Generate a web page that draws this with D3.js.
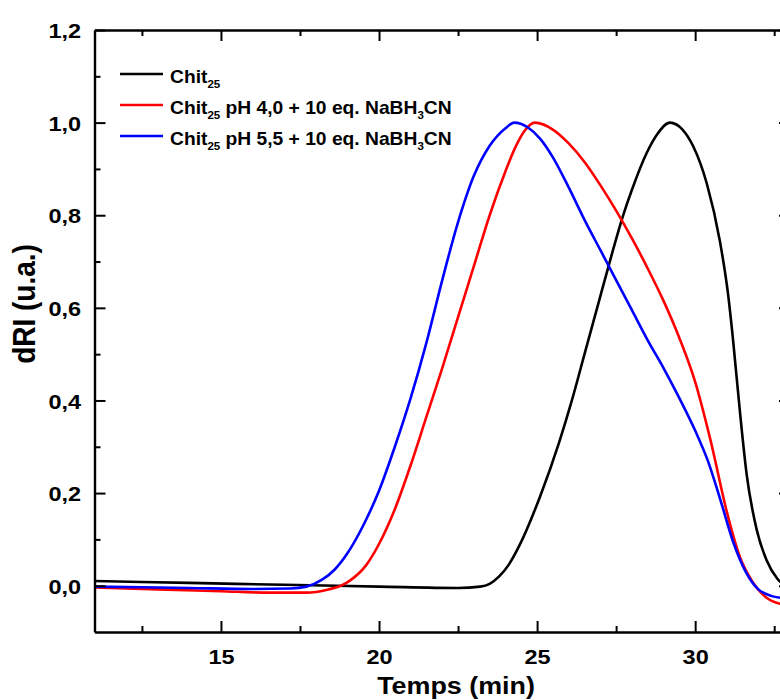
<!DOCTYPE html>
<html><head><meta charset="utf-8">
<script src="https://cdn.jsdelivr.net/npm/d3@7"></script>
<style>body{margin:0;background:#fff} svg{display:block} text{white-space:pre}</style>
</head><body><svg id="c" width="780" height="700"></svg>
<script>
// ---- data ----
const blackTime = [11, 14, 17, 20, 22.5, 23.2, 23.5, 23.8, 24.1, 24.45, 25.08, 25.7, 26.1, 26.5, 26.9, 27.3, 27.7, 28.0, 28.47, 28.8, 29.2, 29.6, 29.93, 30.37, 30.78, 31.04, 31.2, 31.41, 31.63, 31.95, 32.26, 32.6, 33];
const blackValue = [0.010, 0.006, 0.002, -0.002, -0.005, -0.002, 0.004, 0.02, 0.045, 0.088, 0.19, 0.31, 0.40, 0.50, 0.60, 0.70, 0.795, 0.855, 0.935, 0.975, 1.0, 0.985, 0.95, 0.868, 0.745, 0.63, 0.53, 0.38, 0.24, 0.12, 0.055, 0.015, -0.005];

const redTime = [11, 13, 15, 16.5, 17.7, 18.4, 18.8, 19.1, 19.6, 20.0, 20.5, 21.0, 21.5, 22.0, 22.5, 23.0, 23.5, 24.0, 24.3, 24.6, 24.93, 25.5, 26.0, 26.5, 27.0, 27.5, 28.0, 28.5, 29.0, 29.5, 30.0, 30.5, 31.0, 31.4, 31.8, 32.26, 32.68, 33];
const redValue = [-0.004, -0.008, -0.012, -0.015, -0.015, -0.008, 0.0, 0.012, 0.045, 0.09, 0.165, 0.26, 0.365, 0.47, 0.58, 0.69, 0.80, 0.895, 0.945, 0.982, 1.0, 0.985, 0.955, 0.915, 0.865, 0.81, 0.75, 0.685, 0.615, 0.535, 0.44, 0.31, 0.16, 0.065, 0.01, -0.026, -0.039, -0.042];

const blueTime = [11, 14, 16, 17.2, 17.7, 18.2, 18.6, 19.0, 19.5, 20.0, 20.5, 21.0, 21.5, 22.0, 22.5, 23.0, 23.5, 24.0, 24.28, 24.7, 25.1, 25.5, 26.0, 26.5, 27.0, 27.5, 28.0, 28.5, 29.0, 29.5, 30.0, 30.4, 30.8, 31.2, 31.6, 32.0, 32.4, 32.8, 33];
const blueValue = [-0.002, -0.005, -0.007, -0.006, -0.002, 0.013, 0.035, 0.07, 0.13, 0.205, 0.30, 0.405, 0.525, 0.66, 0.785, 0.885, 0.95, 0.988, 1.0, 0.99, 0.965, 0.925, 0.86, 0.79, 0.725, 0.66, 0.595, 0.53, 0.47, 0.405, 0.335, 0.27, 0.185, 0.095, 0.03, -0.008, -0.022, -0.027, -0.028];

const seriesColors = ["#000000", "#ff0000", "#0000ff"];
const legendMain = ["Chit", "Chit", "Chit"];
const legendSub = ["25", "25", "25"];
const legendRest = ["", " pH 4,0 + 10 eq. NaBH", " pH 5,5 + 10 eq. NaBH"];
const legendSub2 = ["", "3", "3"];
const legendEnd = ["", "CN", "CN"];

const xMajorTicks = [15, 20, 25, 30];
const xMinorTicks = [12.5, 17.5, 22.5, 27.5, 32.5];
const yMajorTicks = [0, 0.2, 0.4, 0.6, 0.8, 1.0, 1.2];
const yMinorTicks = [0.1, 0.3, 0.5, 0.7, 0.9, 1.1];
const xTitle = "Temps (min)";
const yTitle = "dRI (u.a.)";

// ---- drawing ----
const FONT = "'Liberation Sans', Arial, Helvetica, sans-serif";
const SX = 1.12;
const svg = d3.select("#c");
const L = 94.5, R = 790, T = 30, B = 632;
const x = d3.scaleLinear().domain([11, 33]).range([L, R]);
const y = d3.scaleLinear().domain([-0.1, 1.2]).range([B, T]);

svg.append("defs").append("clipPath").attr("id", "clip")
  .append("rect").attr("x", L).attr("y", T).attr("width", R - L).attr("height", B - T);

const series = [
  {t: blackTime, v: blackValue},
  {t: redTime, v: redValue},
  {t: blueTime, v: blueValue}
];
const line = d3.line().x(d => x(d[0])).y(d => y(d[1])).curve(d3.curveMonotoneX);
const gl = svg.append("g").attr("clip-path", "url(#clip)");
series.forEach((s, i) => {
  gl.append("path").datum(s.t.map((t, j) => [t, s.v[j]]))
    .attr("d", line).attr("fill", "none")
    .attr("stroke", seriesColors[i]).attr("stroke-width", 2.6)
    .attr("stroke-linejoin", "round");
});

function styleAxis(g) {
  g.selectAll("path").attr("stroke", "#000").attr("stroke-width", 2.4);
  g.selectAll("line").attr("stroke", "#000").attr("stroke-width", 2);
}
// bottom
const bMaj = svg.append("g").attr("transform", `translate(0,${B})`)
  .call(d3.axisBottom(x).tickValues(xMajorTicks).tickSize(-11).tickSizeOuter(0).tickPadding(14)
    .tickFormat(d3.format("d")));
styleAxis(bMaj);
bMaj.selectAll("text").attr("font-family", FONT).attr("font-weight", "bold")
  .attr("font-size", 21).attr("fill", "#000").attr("dy", null).attr("y", 32)
  .attr("transform", `scale(${SX},1)`);
const bMin = svg.append("g").attr("transform", `translate(0,${B})`)
  .call(d3.axisBottom(x).tickValues(xMinorTicks).tickSize(-6).tickSizeOuter(0).tickFormat(""));
styleAxis(bMin); bMin.select("path").remove();
// top
const tMaj = svg.append("g").attr("transform", `translate(0,${T})`)
  .call(d3.axisTop(x).tickValues(xMajorTicks).tickSize(-11).tickSizeOuter(0).tickFormat(""));
styleAxis(tMaj);
const tMin = svg.append("g").attr("transform", `translate(0,${T})`)
  .call(d3.axisTop(x).tickValues(xMinorTicks).tickSize(-6).tickSizeOuter(0).tickFormat(""));
styleAxis(tMin); tMin.select("path").remove();
// left
const fmtY = v => d3.format(".1f")(v).replace(".", ",");
const lMaj = svg.append("g").attr("transform", `translate(${L},0)`)
  .call(d3.axisLeft(y).tickValues(yMajorTicks).tickSize(-11).tickSizeOuter(0).tickPadding(12).tickFormat(fmtY));
styleAxis(lMaj);
lMaj.selectAll("text").attr("font-family", FONT).attr("font-weight", "bold")
  .attr("font-size", 21).attr("fill", "#000").attr("dy", "0.36em")
  .attr("transform", `scale(${SX},1)`);
const lMin = svg.append("g").attr("transform", `translate(${L},0)`)
  .call(d3.axisLeft(y).tickValues(yMinorTicks).tickSize(-6).tickSizeOuter(0).tickFormat(""));
styleAxis(lMin); lMin.select("path").remove();
// right
const rMaj = svg.append("g").attr("transform", `translate(${R},0)`)
  .call(d3.axisRight(y).tickValues(yMajorTicks).tickSize(-11).tickSizeOuter(0).tickFormat(""));
styleAxis(rMaj);
const rMin = svg.append("g").attr("transform", `translate(${R},0)`)
  .call(d3.axisRight(y).tickValues(yMinorTicks).tickSize(-6).tickSizeOuter(0).tickFormat(""));
styleAxis(rMin); rMin.select("path").remove();

// titles
svg.append("text").attr("transform", `translate(456,694) scale(${SX},1)`)
  .attr("text-anchor", "middle").attr("font-family", FONT).attr("font-weight", "bold")
  .attr("font-size", 24).text(xTitle);
svg.append("text").attr("transform", `translate(35,304) scale(${SX},1) rotate(-90)`)
  .attr("text-anchor", "middle").attr("font-family", FONT).attr("font-weight", "bold")
  .attr("font-size", 28).text(yTitle);

// legend
const legY = [74, 105, 136];
seriesColors.forEach((c, i) => {
  svg.append("line").attr("x1", 120).attr("x2", 163).attr("y1", legY[i]).attr("y2", legY[i])
    .attr("stroke", c).attr("stroke-width", 2.6);
  const t = svg.append("text").attr("transform", `translate(170,${legY[i] + 9.3}) scale(1.1,1)`)
    .attr("font-family", FONT).attr("font-weight", "bold").attr("font-size", 17.5).attr("fill", "#000");
  t.append("tspan").text(legendMain[i]);
  t.append("tspan").attr("font-size", 10.5).attr("dy", 5).text(legendSub[i]);
  if (legendRest[i]) {
    t.append("tspan").attr("dy", -5).text(legendRest[i]);
    t.append("tspan").attr("font-size", 10.5).attr("dy", 5).text(legendSub2[i]);
    t.append("tspan").attr("dy", -5).text(legendEnd[i]);
  }
});
</script></body></html>
